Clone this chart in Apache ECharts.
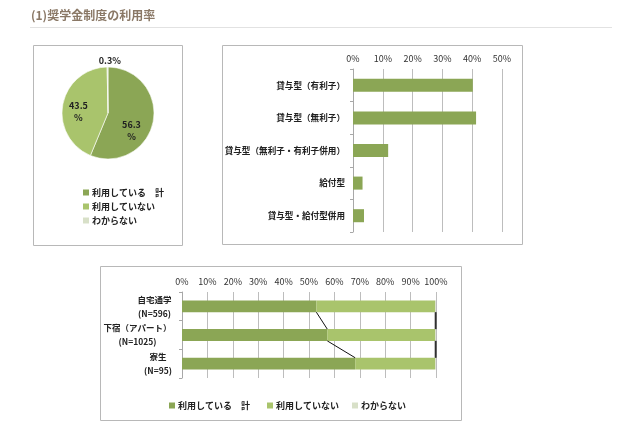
<!DOCTYPE html>
<html><head><meta charset="utf-8">
<script src="https://cdn.jsdelivr.net/npm/echarts@6/dist/echarts.min.js"></script>
<style>html,body{margin:0;padding:0;background:#fff}#c{width:640px;height:422px}</style>
</head><body><div id="c"></div>
<script>
const titleText = '(1)奨学金制度の利用率';
const pieNames = ['利用している　計', '利用していない', 'わからない'];
const pieValues = [56.3, 43.5, 0.3];
const typeCats = ['貸与型（有利子）', '貸与型（無利子）', '貸与型（無利子・有利子併用）', '給付型', '貸与型・給付型併用'];
const typeValues = [40.2, 41.3, 11.8, 3.2, 3.7];
const livingCats = ['自宅通学', '下宿（アパート）', '寮生'];
const livingN = ['(N=596)', '(N=1025)', '(N=95)'];
const usingVals = [52.9, 57.2, 68.2];
const notUsingVals = [46.8, 42.5, 31.5];
const unknownVals = [0.3, 0.3, 0.3];

const C_DARK = '#8BA655', C_LIGHT = '#A9C46C', C_PALE = '#D8E0C8';
const FONT = '"Noto Sans CJK JP", "Noto Sans", sans-serif';
const LBL_SIZE = 8.5;

const cumA = usingVals.slice();
const cumB = usingVals.map((v, i) => v + notUsingVals[i]);
const cumC = cumB.map((v, i) => v + unknownVals[i]);
const BAR_FRAC = 0.41;

// measure label widths so each two-line label is centred on its own block
const mctx = document.createElement('canvas').getContext('2d');
mctx.font = 'bold ' + LBL_SIZE + 'px ' + FONT;
const livingRich = {};
livingCats.forEach((c, i) => {
  const w = Math.ceil(Math.max(mctx.measureText(c).width, mctx.measureText(livingN[i]).width));
  livingRich['r' + i] = {width: w, align: 'center', fontSize: LBL_SIZE, fontWeight: 'bold', color: '#222', lineHeight: 14};
});

const legendText = {fontSize: 9, fontWeight: 'bold', color: '#222', padding: [0, 0, 0, -2]};
const bottomLegendLefts = [164, 262, 347];

const chart = echarts.init(document.getElementById('c'), null, {renderer: 'canvas'});
chart.setOption({
  animation: false,
  textStyle: {fontFamily: FONT},
  graphic: [
    {type: 'text', left: 31, top: 9, style: {text: titleText, font: 'bold 12px ' + FONT, fill: '#8a7866'}},
    {type: 'line', shape: {x1: 30, y1: 27.5, x2: 612, y2: 27.5}, style: {stroke: '#e2e2e2', lineWidth: 1}},
    {type: 'rect', shape: {x: 33.5, y: 45.5, width: 149, height: 200}, style: {fill: 'none', stroke: '#b8b8b8', lineWidth: 1}},
    {type: 'rect', shape: {x: 222.5, y: 45.5, width: 300, height: 199}, style: {fill: 'none', stroke: '#b8b8b8', lineWidth: 1}},
    {type: 'rect', shape: {x: 100.5, y: 266.5, width: 361, height: 154}, style: {fill: 'none', stroke: '#b8b8b8', lineWidth: 1}}
  ],
  legend: [
    {
      data: pieNames, orient: 'vertical', left: 78, top: 183, itemWidth: 6, itemHeight: 6, itemGap: 5,
      icon: 'rect', selectedMode: false, textStyle: legendText
    }
  ].concat(pieNames.map((n, i) => ({
    data: [n], orient: 'horizontal', left: bottomLegendLefts[i], top: 396, itemWidth: 6, itemHeight: 6,
    icon: 'rect', selectedMode: false, textStyle: legendText
  }))),
  grid: [
    {left: 353, right: 138, top: 69, bottom: 190, containLabel: false},
    {left: 182, right: 204, top: 292, bottom: 44, containLabel: false}
  ],
  xAxis: [
    {
      gridIndex: 0, type: 'value', position: 'top', min: 0, max: 50, interval: 10,
      axisLine: {show: false}, axisTick: {show: false},
      axisLabel: {formatter: '{value}%', fontSize: 9, color: '#333', margin: 6},
      splitLine: {lineStyle: {color: '#bdbdbd', width: 1}}
    },
    {
      gridIndex: 1, type: 'value', position: 'top', min: 0, max: 100, interval: 10,
      axisLine: {show: false}, axisTick: {show: false},
      axisLabel: {formatter: '{value}%', fontSize: 9, color: '#333', margin: 6},
      splitLine: {lineStyle: {color: '#bdbdbd', width: 1}}
    }
  ],
  yAxis: [
    {
      gridIndex: 0, type: 'category', data: typeCats, inverse: true,
      axisLine: {show: true, lineStyle: {color: '#a8a8a8'}},
      axisTick: {show: true, length: 3, lineStyle: {color: '#a8a8a8'}},
      axisLabel: {fontSize: 8.6, fontWeight: 'bold', color: '#222', margin: 8}
    },
    {
      gridIndex: 1, type: 'category', data: livingCats, inverse: true,
      axisLine: {show: true, lineStyle: {color: '#a8a8a8'}},
      axisTick: {show: true, length: 3, lineStyle: {color: '#a8a8a8'}},
      axisLabel: {
        margin: 10, align: 'right',
        formatter: (v, i) => '{r' + i + '|' + v + '}\n{r' + i + '|' + livingN[i] + '}',
        rich: livingRich
      }
    }
  ],
  series: [
    {
      type: 'pie', center: [108, 113], radius: 46, startAngle: 90, clockwise: true,
      data: pieNames.map((n, i) => ({name: n, value: pieValues[i]})),
      color: [C_DARK, C_LIGHT, C_PALE],
      itemStyle: {borderColor: '#fff', borderWidth: 0.6},
      label: {
        position: 'inside', fontSize: 9, fontWeight: 'bold', color: '#222', lineHeight: 12,
        formatter: p => p.dataIndex < 2 ? p.value.toFixed(1) + '\n%' : p.value + '%'
      },
      labelLayout: p => {
        const off = [[-2, 13], [-4, 3], [2, -26]][p.dataIndex];
        return {dx: off[0], dy: off[1]};
      },
      labelLine: {show: false},
      emphasis: {disabled: true}
    },
    {
      type: 'bar', xAxisIndex: 0, yAxisIndex: 0, data: typeValues, barWidth: '40%',
      itemStyle: {color: C_DARK}, silent: true
    },
    {
      name: pieNames[0], type: 'bar', xAxisIndex: 1, yAxisIndex: 1, stack: 'tot', data: usingVals,
      barWidth: (BAR_FRAC * 100) + '%', itemStyle: {color: C_DARK}, silent: true
    },
    {
      name: pieNames[1], type: 'bar', xAxisIndex: 1, yAxisIndex: 1, stack: 'tot', data: notUsingVals,
      barWidth: (BAR_FRAC * 100) + '%', itemStyle: {color: C_LIGHT}, silent: true
    },
    {
      name: pieNames[2], type: 'bar', xAxisIndex: 1, yAxisIndex: 1, stack: 'tot', data: unknownVals,
      barWidth: (BAR_FRAC * 100) + '%', itemStyle: {color: C_PALE}, silent: true
    },
    {
      name: 'seriesLines', type: 'custom', xAxisIndex: 1, yAxisIndex: 1, silent: true, z: 5,
      data: livingCats.slice(1).map((_, i) => [0, i]),
      renderItem: (params, api) => {
        const i = params.dataIndex;
        const half = api.size([0, 1])[1] * BAR_FRAC / 2;
        return {
          type: 'group',
          children: [cumA, cumB, cumC].map(arr => {
            const p1 = api.coord([arr[i], i]);
            const p2 = api.coord([arr[i + 1], i + 1]);
            return {type: 'line', shape: {x1: p1[0], y1: p1[1] + half, x2: p2[0], y2: p2[1] - half},
              style: {stroke: '#111', lineWidth: 1}};
          })
        };
      }
    }
  ]
});
</script>
</body></html>
